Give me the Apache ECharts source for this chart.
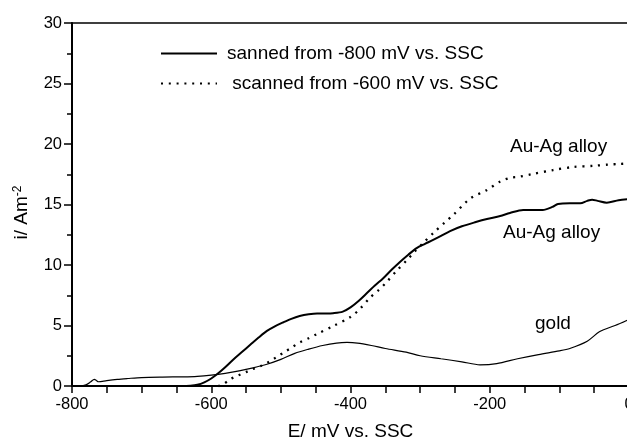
<!DOCTYPE html>
<html>
<head>
<meta charset="utf-8">
<script src="https://cdn.jsdelivr.net/npm/echarts@6/dist/echarts.min.js"></script>
<style>
html,body{margin:0;padding:0;background:#fff;}
#chart{width:627px;height:439px;}
</style>
</head>
<body>
<div id="chart"></div>
<script>
// Series names
var seriesNames = ['sanned from -800 mV vs. SSC', ' scanned from -600 mV vs. SSC', 'gold'];

// Au-Ag alloy, scanned from -800 mV (solid thick)
var alloy800E = [-645,-630,-620,-610,-600,-590,-580,-569,-556,-544,-532,-520,-508,-497,-485,-473,-460,-448,-435,-425,-411,-400,-388,-376,-365,-353,-341,-329,-317,-305,-293,-282,-270,-257,-240,-220,-204,-185,-171,-152,-138,-124,-110,-102,-85,-70,-60,-53,-45,-32,-15,0];
var alloy800I = [0,0.03,0.1,0.3,0.62,1.05,1.55,2.15,2.8,3.4,4.0,4.55,4.95,5.25,5.55,5.78,5.93,6.0,6.0,6.02,6.15,6.5,7.05,7.7,8.3,8.9,9.6,10.25,10.85,11.4,11.75,12.05,12.4,12.8,13.2,13.55,13.8,14.05,14.3,14.55,14.55,14.55,14.8,15.05,15.1,15.1,15.3,15.4,15.3,15.15,15.35,15.45];

// Au-Ag alloy, scanned from -600 mV (dotted)
var alloy600E = [-590,-585,-573,-562,-550,-540,-529,-517,-506,-495,-484,-473,-460,-448,-425,-400,-386,-372,-360,-348,-334,-319,-308,-296,-280,-264,-253,-228,-204,-185,-171,-157,-140,-109,-80,-50,-30,-13,0];
var alloy600I = [0,0.05,0.55,0.85,1.15,1.4,1.65,2.0,2.4,2.8,3.2,3.6,3.95,4.3,4.95,5.7,6.4,7.3,7.9,8.6,9.5,10.4,11.1,11.8,12.7,13.55,14.1,15.5,16.2,16.9,17.2,17.3,17.5,17.85,18.1,18.2,18.3,18.35,18.4];

// gold (thin solid)
var goldE = [-790,-780,-773,-768,-765,-762,-750,-735,-720,-700,-670,-640,-620,-600,-580,-560,-540,-520,-500,-480,-460,-440,-420,-405,-390,-370,-350,-320,-300,-270,-240,-214,-190,-160,-130,-100,-85,-60,-42,-20,0];
var goldI = [0,0.1,0.35,0.55,0.45,0.35,0.45,0.55,0.62,0.7,0.74,0.76,0.8,0.9,1.05,1.25,1.5,1.8,2.2,2.7,3.05,3.35,3.55,3.6,3.55,3.35,3.1,2.8,2.5,2.25,2.0,1.75,1.85,2.25,2.6,2.9,3.1,3.7,4.5,5.0,5.5];

// Axis ticks
var xMin = -800, xMax = 0, xStep = 200;
var yMin = 0, yMax = 30, yStep = 5;

// Annotations
var annotations = ['Au-Ag alloy', 'Au-Ag alloy', 'gold'];

function pairs(xs, ys){ return xs.map(function(x,i){ return [x, ys[i]]; }); }

var FONT = "'Liberation Sans', Arial, Helvetica, sans-serif";
var chart = echarts.init(document.getElementById('chart'));
chart.setOption({
  animation: false,
  backgroundColor: '#fff',
  grid: { left: 72, right: -2, top: 23, bottom: 53, show: true, borderColor: '#000', borderWidth: 1.5,
          containLabel: false, outerBoundsMode: 'none' },
  legend: {
    data: [seriesNames[0], seriesNames[1]],
    orient: 'vertical', left: 155, top: 39,
    itemWidth: 56, itemHeight: 20, itemGap: 11,
    selectedMode: false,
    itemStyle: { opacity: 0 },
    textStyle: { fontFamily: FONT, fontSize: 19, color: '#000', padding: [0,0,0,5] }
  },
  xAxis: {
    type: 'value', min: xMin, max: xMax, interval: xStep,
    name: 'E/ mV vs. SSC', nameLocation: 'middle', nameGap: 36,
    nameTextStyle: { fontFamily: FONT, fontSize: 19, color: '#000' },
    axisLine: { show: true, onZero: false, lineStyle: { color: '#000', width: 2 } },
    axisTick: { show: true, inside: false, length: 7, lineStyle: { color: '#000', width: 1.5 } },
    minorTick: { show: true, splitNumber: 4, length: 7, lineStyle: { color: '#000', width: 1.5 } },
    axisLabel: { fontFamily: FONT, fontSize: 16.5, color: '#000', margin: 10, showMaxLabel: true, hideOverlap: false },
    splitLine: { show: false },
    minorSplitLine: { show: false }
  },
  yAxis: {
    type: 'value', min: yMin, max: yMax, interval: yStep,
    name: 'i/ Am{sup|-2}', nameLocation: 'middle', nameGap: 40, nameRotate: 90,
    nameTextStyle: { fontFamily: FONT, fontSize: 19, color: '#000', padding: [0,16,0,0],
      rich: { sup: { fontFamily: FONT, fontSize: 12, color: '#000', verticalAlign: 'top', padding: [0,0,8,0] } } },
    axisLine: { show: true, onZero: false, lineStyle: { color: '#000', width: 2 } },
    axisTick: { show: true, inside: false, length: 8, lineStyle: { color: '#000', width: 1.5 } },
    minorTick: { show: true, splitNumber: 2, length: 5, lineStyle: { color: '#000', width: 1.5 } },
    axisLabel: { fontFamily: FONT, fontSize: 16.5, color: '#000', margin: 10 },
    splitLine: { show: false },
    minorSplitLine: { show: false }
  },
  series: [
    { name: seriesNames[0], type: 'line', data: pairs(alloy800E, alloy800I), showSymbol: false, symbol: 'none', smooth: 0.3,
      lineStyle: { color: '#000', width: 2 }, itemStyle: { color: '#000' } },
    { name: seriesNames[1], type: 'line', data: pairs(alloy600E, alloy600I), showSymbol: false, symbol: 'none', smooth: 0.3,
      lineStyle: { color: '#000', width: 2.3, type: [2, 5.8], cap: 'butt' }, itemStyle: { color: '#000' } },
    { name: seriesNames[2], type: 'line', data: pairs(goldE, goldI), showSymbol: false, symbol: 'none', smooth: 0.3,
      lineStyle: { color: '#000', width: 1.2 }, itemStyle: { color: '#000' } }
  ],
  graphic: [
    { type: 'text', x: 510, y: 147, style: { text: annotations[0], font: '19px ' + FONT, fill: '#000', verticalAlign: 'middle' } },
    { type: 'text', x: 503, y: 233, style: { text: annotations[1], font: '19px ' + FONT, fill: '#000', verticalAlign: 'middle' } },
    { type: 'text', x: 535, y: 324, style: { text: annotations[2], font: '19px ' + FONT, fill: '#000', verticalAlign: 'middle' } }
  ]
});
</script>
</body>
</html>
